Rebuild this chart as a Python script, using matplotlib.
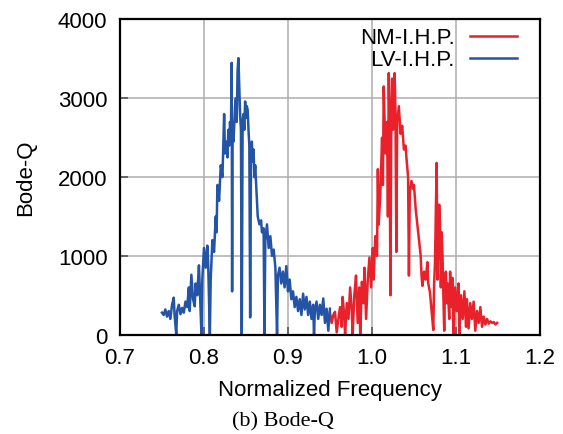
import numpy as np
import matplotlib.pyplot as plt

plt.rcParams['font.family'] = ['Liberation Sans', 'DejaVu Sans']

# LV-I.H.P. (blue) : normalized frequency vs Bode-Q
lv_freq = [0.750, 0.752, 0.754, 0.756, 0.758, 0.760, 0.762, 0.764, 0.765, 0.767,
           0.768, 0.770, 0.772, 0.774, 0.776, 0.778, 0.780, 0.782, 0.783, 0.785,
           0.787, 0.789, 0.790, 0.792, 0.794, 0.795, 0.797, 0.798, 0.800, 0.802,
           0.804, 0.805, 0.807, 0.808, 0.810, 0.812, 0.814, 0.815, 0.816, 0.818,
           0.820, 0.822, 0.824, 0.825, 0.827, 0.828, 0.829, 0.830, 0.831, 0.832,
           0.833, 0.8335, 0.834, 0.835, 0.836, 0.837, 0.838, 0.839, 0.840, 0.841,
           0.842, 0.843, 0.844, 0.845, 0.846, 0.847, 0.848, 0.849, 0.850, 0.851,
           0.852, 0.853, 0.854, 0.855, 0.856, 0.857, 0.858, 0.859, 0.860, 0.861,
           0.863, 0.864, 0.866, 0.868, 0.869, 0.871, 0.872, 0.873, 0.875, 0.877,
           0.879, 0.881, 0.883, 0.885, 0.887, 0.888, 0.890, 0.892, 0.894, 0.896,
           0.898, 0.900, 0.902, 0.904, 0.906, 0.908, 0.910, 0.912, 0.914, 0.916,
           0.918, 0.920, 0.922, 0.924, 0.926, 0.928, 0.930, 0.931, 0.932, 0.934,
           0.936, 0.938, 0.940, 0.942, 0.944, 0.946, 0.948, 0.950]
lv_q = [280, 250, 320, 230, 300, 200, 380, 470, 250, 0,
        300, 380, 260, 340, 280, 420, 350, 600, 300, 760,
        450, 360, 650, 500, 880, 600, 0, 700, 1100, 850,
        1130, 900, 0, 700, 1200, 1050, 1500, 1300, 1900, 1700,
        2150, 2000, 2800, 2300, 2450, 2250, 2600, 2400, 2700, 2500,
        3450, 550, 2700, 2450, 2650, 2900, 3000, 2700, 3350, 3510,
        3150, 2800, 2600, 0, 2700, 2800, 2600, 2960, 2750, 2900,
        2850, 2600, 2400, 220, 2300, 2450, 2200, 2350, 2000, 2150,
        1700, 1500, 1400, 1450, 1300, 1350, 0, 1200, 1400, 1100,
        1250, 1000, 1080, 850, 0, 750, 850, 650, 800, 600,
        870, 550, 700, 450, 550, 350, 480, 300, 450, 250,
        520, 320, 480, 250, 420, 200, 380, 0, 300, 420,
        200, 380, 250, 460, 150, 330, 50, 330]

# NM-I.H.P. (red)
nm_freq = [0.950, 0.952, 0.954, 0.956, 0.958, 0.960, 0.962, 0.964, 0.965, 0.967,
           0.968, 0.970, 0.972, 0.974, 0.976, 0.977, 0.979, 0.981, 0.983, 0.985,
           0.986, 0.988, 0.990, 0.991, 0.993, 0.995, 0.997, 0.999, 1.001, 1.002,
           1.004, 1.006, 1.007, 1.008, 1.010, 1.012, 1.013, 1.014, 1.016, 1.018,
           1.019, 1.020, 1.021, 1.022, 1.023, 1.024, 1.025, 1.026, 1.027, 1.028,
           1.029, 1.030, 1.032, 1.034, 1.036, 1.038, 1.040, 1.041, 1.043, 1.044,
           1.045, 1.047, 1.049, 1.050, 1.052, 1.054, 1.056, 1.058, 1.059, 1.060,
           1.062, 1.064, 1.066, 1.067, 1.069, 1.071, 1.073, 1.074, 1.075, 1.077,
           1.078, 1.079, 1.080, 1.081, 1.082, 1.083, 1.084, 1.085, 1.086, 1.087,
           1.088, 1.089, 1.090, 1.092, 1.093, 1.095, 1.096, 1.097, 1.099, 1.101,
           1.103, 1.104, 1.106, 1.108, 1.110, 1.112, 1.113, 1.115, 1.117, 1.119,
           1.121, 1.123, 1.125, 1.127, 1.129, 1.131, 1.133, 1.135, 1.137, 1.139,
           1.141, 1.143, 1.145, 1.147, 1.149]
nm_q = [280, 150, 250, 290, 30, 200, 350, 100, 480, 250,
        0, 400, 200, 600, 300, 0, 500, 750, 150, 600,
        0, 670, 400, 850, 200, 700, 980, 600, 1100, 700,
        1250, 1000, 2100, 1400, 1800, 2500, 1900, 3150, 2300, 2700,
        1500, 3320, 2500, 500, 2800, 3250, 2600, 3000, 3320, 2800,
        1050, 2700, 2900, 2550, 2650, 2350, 2400, 2250, 2000, 750,
        1800, 1950, 1850, 1900, 1600, 1400, 1200, 1000, 750, 620,
        800, 700, 920, 650, 540, 300, 60, 650, 900, 2180,
        700, 1200, 1650, 1400, 600, 1300, 1000, 500, 50, 700,
        800, 400, 650, 200, 800, 350, 720, 0, 600, 300,
        650, 0, 500, 200, 550, 100, 450, 80, 400, 200,
        420, 50, 300, 150, 350, 100, 230, 130, 200, 140,
        170, 150, 160, 130, 150]

x_ticks = [0.7, 0.8, 0.9, 1.0, 1.1, 1.2]
y_ticks = [0, 1000, 2000, 3000, 4000]

fig = plt.figure(figsize=(5.63, 4.35), dpi=100)
ax = fig.add_axes([0.2131, 0.2283, 0.7460, 0.7246])

ax.plot(nm_freq, nm_q, color='#e8212b', lw=1.8, label='NM-I.H.P.')
ax.plot(lv_freq, lv_q, color='#2354a6', lw=1.8, label='LV-I.H.P.')

ax.set_xlim(0.7, 1.2)
ax.set_ylim(0, 4000)
ax.set_xticks(x_ticks)
ax.set_xticklabels([f"{t:.1f}" for t in x_ticks])
ax.set_yticks(y_ticks)
ax.grid(True, color='#adadad', lw=1.1)
ax.set_axisbelow(True)
ax.tick_params(direction='in', length=6, width=1.2, color='#555555',
               labelsize=16, pad=9)
for s in ax.spines.values():
    s.set_linewidth(1.6)

ax.set_xlabel('Normalized Frequency', fontsize=16, labelpad=8)
ax.set_ylabel('Bode-Q', fontsize=16, labelpad=16)

ax.legend(loc='upper right', bbox_to_anchor=(0.945, 0.975), frameon=False,
          markerfirst=False, fontsize=16, handlelength=2.1, handletextpad=0.7,
          labelspacing=0.05, borderpad=0, borderaxespad=0)

fig.text(0.503, 0.03, '(b) Bode-Q', fontsize=16, family='Liberation Serif',
         ha='center', va='center')

fig.savefig('out.png', dpi=100)
